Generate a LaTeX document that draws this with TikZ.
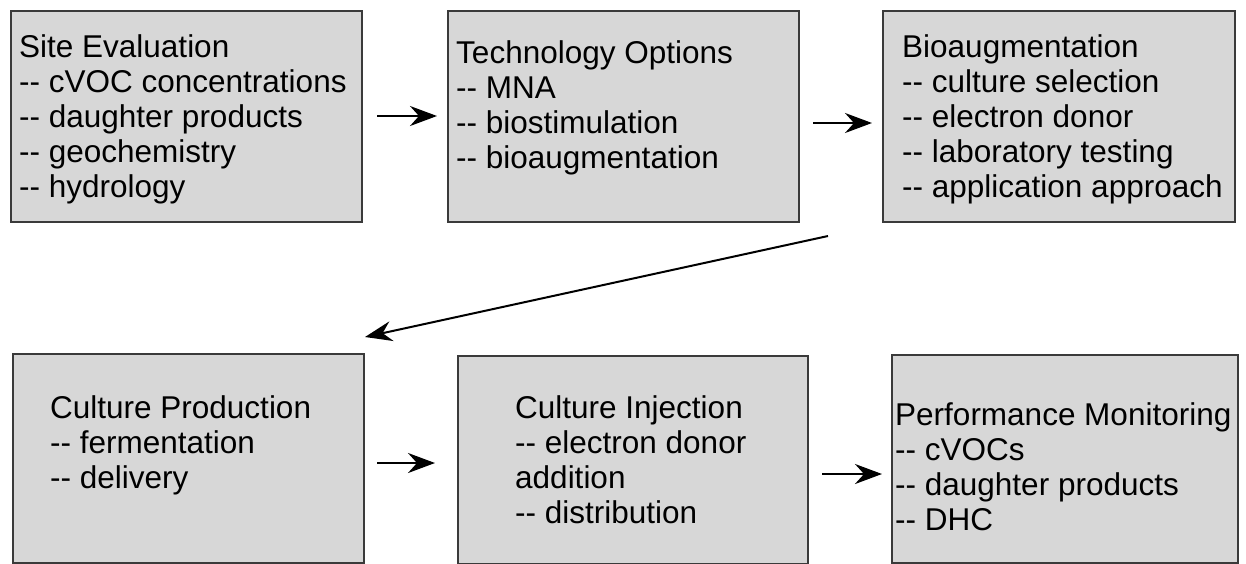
\documentclass[tikz,border=0pt]{standalone}
\usepackage{fontspec}
\newfontfamily\af{Liberation Sans}
\usetikzlibrary{arrows.meta}
\definecolor{boxfill}{HTML}{D7D7D7}
\definecolor{boxline}{HTML}{3A3A3A}
\begin{document}
\begin{tikzpicture}[x=1pt,y=-1pt,
  box/.style={draw=boxline, fill=boxfill, line width=2pt, inner sep=0pt, anchor=north west},
  txt/.style={inner sep=0pt, anchor=north west, align=left, font=\af\fontsize{31.5}{35}\selectfont, text=black},
  arr/.style={line width=2.5pt, -{Stealth[length=27pt,width=20pt,inset=9pt]}}]
\useasboundingbox (0,0) rectangle (1246,563);
% boxes
\node[box, minimum width=351pt, minimum height=211pt] (b1) at (10,10) {};
\node[box, minimum width=351pt, minimum height=211pt] (b2) at (447,10) {};
\node[box, minimum width=352pt, minimum height=211pt] (b3) at (882,10) {};
\node[box, minimum width=351pt, minimum height=209pt] (b4) at (12,353) {};
\node[box, minimum width=350pt, minimum height=208pt] (b5) at (457,355) {};
\node[box, minimum width=346pt, minimum height=208pt] (b6) at (891,354) {};
% texts
\node[txt] (t1) at (19,34) {Site Evaluation\\-- cVOC concentrations\\-- daughter products\\-- geochemistry\\-- hydrology};
\node[txt] (t2) at (456,40) {Technology Options\\-- MNA\\-- biostimulation\\-- bioaugmentation};
\node[txt] (t3) at (902,34) {Bioaugmentation\\-- culture selection\\-- electron donor\\-- laboratory testing\\-- application approach};
\node[txt] (t4) at (50,395) {Culture Production\\-- fermentation\\-- delivery};
\node[txt] (t5) at (515,395) {Culture Injection\\-- electron donor\\addition\\-- distribution};
\node[txt] (t6) at (895,402) {Performance Monitoring\\-- cVOCs\\-- daughter products\\-- DHC};
% connector ends
\coordinate (a1s) at (377,116); \coordinate (a1e) at (437,116);
\coordinate (a2s) at (813,123); \coordinate (a2e) at (872,123);
\coordinate (a3s) at (828,236); \coordinate (a3e) at (365,337);
\coordinate (a4s) at (377,463); \coordinate (a4e) at (435,463);
\coordinate (a5s) at (822,474); \coordinate (a5e) at (882,474);
\draw[arr] (a1s) -- (a1e);
\draw[arr] (a2s) -- (a2e);
\draw[arr, line width=2pt] (a3s) -- (a3e);
\draw[arr] (a4s) -- (a4e);
\draw[arr] (a5s) -- (a5e);
\end{tikzpicture}
\end{document}
